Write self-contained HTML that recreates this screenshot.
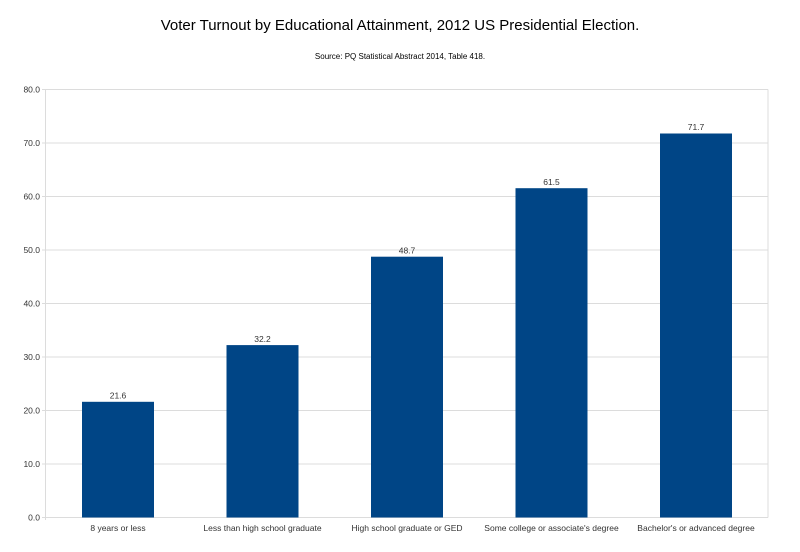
<!DOCTYPE html>
<html><head><meta charset="utf-8"><style>html,body{margin:0;padding:0;background:#fff}svg{display:block}</style></head>
<body>
<svg width="800" height="552" xmlns="http://www.w3.org/2000/svg" font-family="Liberation Sans, sans-serif">
<rect width="800" height="552" fill="#fff"/>
<text x="400" y="30" font-size="15" text-anchor="middle" fill="#000">Voter Turnout by Educational Attainment, 2012 US Presidential Election.</text>
<text x="400" y="59" font-size="8" text-anchor="middle" fill="#000">Source: PQ Statistical Abstract 2014, Table 418.</text>
<g stroke="#dcdcdc" stroke-width="1">
<line x1="42" y1="89.5" x2="768" y2="89.5"/>
<line x1="42" y1="143" x2="768" y2="143"/>
<line x1="42" y1="196.5" x2="768" y2="196.5"/>
<line x1="42" y1="250" x2="768" y2="250"/>
<line x1="42" y1="303.5" x2="768" y2="303.5"/>
<line x1="42" y1="357" x2="768" y2="357"/>
<line x1="42" y1="410.5" x2="768" y2="410.5"/>
<line x1="42" y1="464" x2="768" y2="464"/>
<line x1="42" y1="517.5" x2="768" y2="517.5"/>
<line x1="45.5" y1="89.5" x2="45.5" y2="520"/>
<line x1="768" y1="89.5" x2="768" y2="517.5"/>
</g>
<g font-size="8.5" fill="#333" text-anchor="end">
<text x="40" y="92.5">80.0</text>
<text x="40" y="146">70.0</text>
<text x="40" y="199.5">60.0</text>
<text x="40" y="253">50.0</text>
<text x="40" y="306.5">40.0</text>
<text x="40" y="360">30.0</text>
<text x="40" y="413.5">20.0</text>
<text x="40" y="467">10.0</text>
<text x="40" y="520.5">0.0</text>
</g>
<g fill="#004586">
<rect x="82" y="401.8" width="72" height="115.7"/>
<rect x="226.5" y="345.1" width="72" height="172.4"/>
<rect x="371" y="256.7" width="72" height="260.8"/>
<rect x="515.5" y="188.2" width="72" height="329.3"/>
<rect x="660" y="133.5" width="72" height="384"/>
</g>
<g font-size="8.5" fill="#333" text-anchor="middle">
<text x="118" y="398.5">21.6</text>
<text x="262.5" y="342">32.2</text>
<text x="407" y="253.5">48.7</text>
<text x="551.5" y="185">61.5</text>
<text x="696" y="130">71.7</text>
<text x="118" y="531">8 years or less</text>
<text x="262.5" y="531">Less than high school graduate</text>
<text x="407" y="531">High school graduate or GED</text>
<text x="551.5" y="531">Some college or associate's degree</text>
<text x="696" y="531">Bachelor's or advanced degree</text>
</g>
</svg>
</body></html>
